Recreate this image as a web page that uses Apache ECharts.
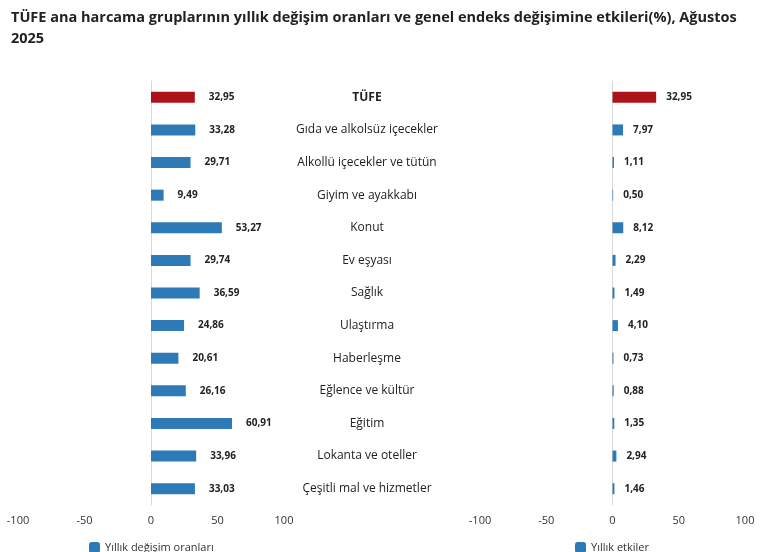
<!DOCTYPE html>
<html><head><meta charset="utf-8">
<script src="https://cdn.jsdelivr.net/npm/echarts@6/dist/echarts.min.js"></script>
<style>html,body{margin:0;padding:0;background:#fff}#c{width:763px;height:552px}</style>
</head><body><div id="c"></div>
<script>
const categories = ["TÜFE","Gıda ve alkolsüz içecekler","Alkollü içecekler ve tütün","Giyim ve ayakkabı","Konut","Ev eşyası","Sağlık","Ulaştırma","Haberleşme","Eğlence ve kültür","Eğitim","Lokanta ve oteller","Çeşitli mal ve hizmetler"];
const annualRates = [32.95,33.28,29.71,9.49,53.27,29.74,36.59,24.86,20.61,26.16,60.91,33.96,33.03];
const annualEffects = [32.95,7.97,1.11,0.50,8.12,2.29,1.49,4.10,0.73,0.88,1.35,2.94,1.46];
const xTicks = [-100,-50,0,50,100];
const BLUE='#2e7ab6', RED='#ac1219';
const font='"Open Sans", "Noto Sans", sans-serif';
const fmt = v => v.toFixed(2).replace('.', ',');
const toData = arr => arr.map((v,i)=> i===0 ? {value:v, itemStyle:{color:RED}} : v);
const xAx = g => ({type:'value', gridIndex:g, min:xTicks[0], max:xTicks[xTicks.length-1], interval:50,
  splitLine:{show:false}, axisLine:{show:false}, axisTick:{show:false},
  axisLabel:{color:'#333', fontSize:11, fontFamily:font, margin:10}});
const yAx = g => ({type:'category', gridIndex:g, data:categories, inverse:true,
  axisLine:{show:true, onZero:true, lineStyle:{color:'#d9d9d9'}}, axisTick:{show:false}, axisLabel:{show:false}});
const chart = echarts.init(document.getElementById('c'));
chart.setOption({
  animation:false,
  textStyle:{fontFamily:font},
  title:{text:'TÜFE ana harcama gruplarının yıllık değişim oranları ve genel endeks değişimine etkileri(%), Ağustos\n2025',
    left:6, top:2, textStyle:{fontSize:14.5, fontWeight:'bold', color:'#222', lineHeight:21, fontFamily:font}},
  grid:[{left:18, width:266, top:81, height:424},{left:480, width:265, top:81, height:424}],
  xAxis:[xAx(0), xAx(1)],
  yAxis:[yAx(0), yAx(1), {type:'category', gridIndex:0, data:categories, inverse:true, position:'right',
    axisLine:{show:false, onZero:false}, axisTick:{show:false},
    axisLabel:{align:'center', margin:83, color:'#222', fontSize:12, fontFamily:font,
      formatter:(v)=> v==='TÜFE' ? '{b|'+v+'}' : v, rich:{b:{fontWeight:'bold', fontSize:12, color:'#222'}}}}],
  legend:[{data:['Yıllık değişim oranları'], left:84, top:537, itemWidth:11, itemHeight:11, textStyle:{fontSize:11, color:'#333'}},
          {data:['Yıllık etkiler'], left:570, top:537, itemWidth:11, itemHeight:11, textStyle:{fontSize:11, color:'#333'}}],
  series:[
    {name:'Yıllık değişim oranları', type:'bar', xAxisIndex:0, yAxisIndex:0, data:toData(annualRates), barWidth:11,
     itemStyle:{color:BLUE}, label:{show:true, position:'right', distance:14, fontSize:10, fontWeight:'bold', color:'#222', formatter:p=>fmt(p.value)}},
    {name:'Yıllık etkiler', type:'bar', xAxisIndex:1, yAxisIndex:1, data:toData(annualEffects), barWidth:11,
     itemStyle:{color:BLUE}, label:{show:true, position:'right', distance:10, fontSize:10, fontWeight:'bold', color:'#222', formatter:p=>fmt(p.value)}}
  ]
});
</script></body></html>
